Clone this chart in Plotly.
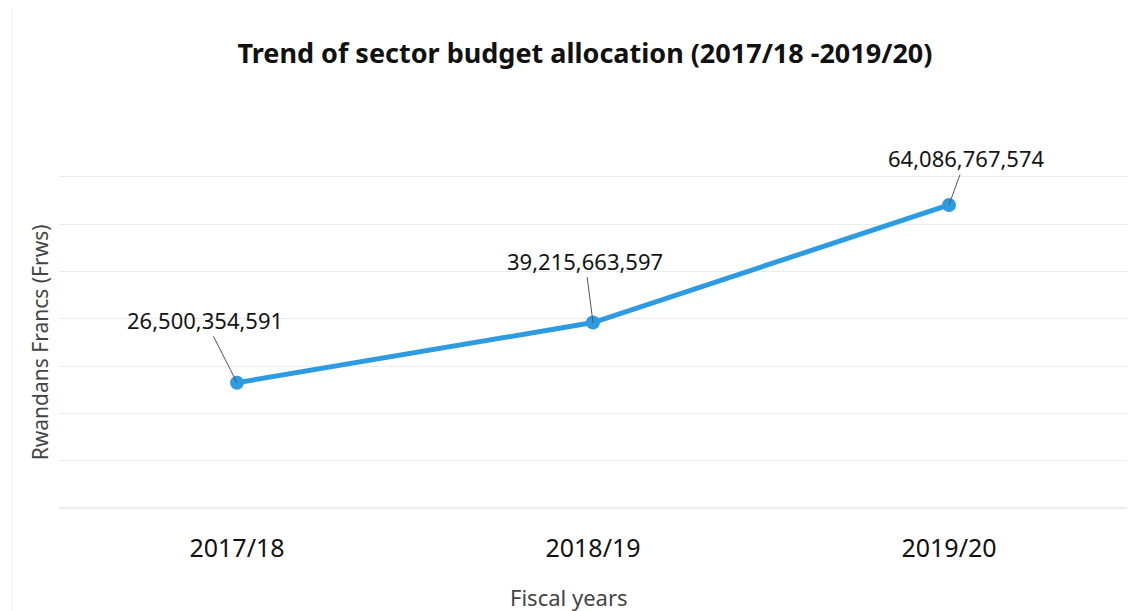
import plotly.graph_objects as go

years = ["2017/18", "2018/19", "2019/20"]
budget = [26500354591, 39215663597, 64086767574]
labels = ["26,500,354,591", "39,215,663,597", "64,086,767,574"]
label_dx = [-32, -8, 17]
label_dy = [-63, -62, -47]

fig = go.Figure()
fig.add_trace(go.Scatter(
    x=years, y=budget, mode="lines+markers",
    line=dict(color="#2C9BE2", width=5),
    marker=dict(color="#2C9BE2", size=14),
    showlegend=False, hoverinfo="skip",
))
for x, y, t, dx, dy in zip(years, budget, labels, label_dx, label_dy):
    fig.add_annotation(
        x=x, y=y, text=t, ax=dx, ay=dy, axref="pixel", ayref="pixel",
        showarrow=True, arrowhead=0, arrowwidth=1, arrowcolor="#555555",
        font=dict(family="Noto Sans", size=22, color="#141414"),
    )

# axis titles placed in paper coordinates
fig.add_annotation(xref="paper", yref="paper", x=0.4775, y=-0.26, yanchor="middle",
                   text="Fiscal years", showarrow=False,
                   font=dict(family="Noto Sans", size=22, color="#444444"))
fig.add_annotation(xref="paper", yref="paper", x=-0.018, y=0.50, xanchor="center",
                   yanchor="middle", textangle=-90, text="Rwandans Francs (Frws)",
                   showarrow=False,
                   font=dict(family="Noto Sans", size=21, color="#444444"))

fig.add_shape(type="line", xref="paper", yref="paper", x0=-0.044, x1=-0.044, y0=-0.52, y1=1.5,
              line=dict(color="#f0f0f0", width=1))

fig.update_layout(
    width=1128, height=603,
    margin=dict(l=51, r=9, t=167, b=101),
    paper_bgcolor="white", plot_bgcolor="white",
    title=dict(text="<b>Trend of sector budget allocation (2017/18 -2019/20)</b>",
               x=0.5115, xanchor="center", y=0.925, yanchor="middle",
               font=dict(family="Noto Sans", size=27, color="#111111")),
    xaxis=dict(type="category", range=[-0.5, 2.5], showgrid=False, showline=False, zeroline=False,
               ticks="", ticklabelstandoff=21, automargin=False,
               tickfont=dict(family="Noto Sans", size=25, color="#111111")),
    yaxis=dict(range=[-0.42e9, 70.42e9], tick0=0, dtick=10e9, showticklabels=False, showgrid=True,
               gridcolor="#ececec", gridwidth=1, zeroline=True, zerolinecolor="#ececec",
               showline=False, ticks="", automargin=False),
)

fig.write_html("out.html")
